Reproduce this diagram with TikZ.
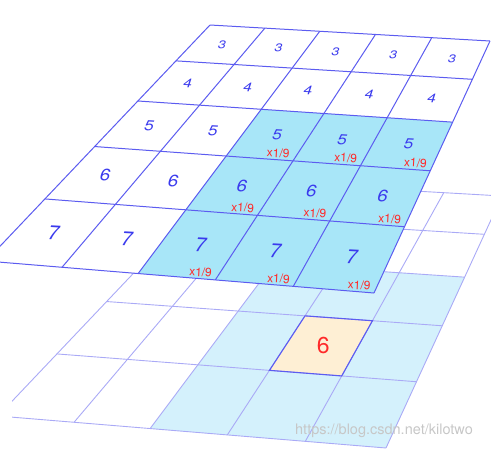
\documentclass[tikz,border=0pt]{standalone}
\usepackage{graphicx}
\usepackage{fontspec}
\setsansfont{TeX Gyre Heros}
\usetikzlibrary{calc}

\definecolor{gridblue}{HTML}{5C5CF0}
\definecolor{paleline}{HTML}{AAAAF6}
\definecolor{hicyan}{HTML}{A8E6F8}
\definecolor{palecyan}{HTML}{D4F1FC}
\definecolor{outpeach}{HTML}{FEEFD4}
\definecolor{numblue}{HTML}{3A3AEE}
\definecolor{wred}{HTML}{FF2A2A}

\begin{document}
\begin{tikzpicture}[x=1pt,y=-1pt,
    numlabel/.style={text=numblue,inner sep=0pt,rotate=-3},
    weight/.style={text=wred,font=\sffamily\fontsize{12}{12}\selectfont,anchor=south east,inner sep=0.5pt,rotate=-3},
    outval/.style={text=wred,font=\sffamily\fontsize{23}{23}\selectfont,inner sep=0pt},
    topline/.style={gridblue,line width=1pt},
    lowline/.style={paleline,line width=0.9pt}]
\useasboundingbox (0,0) rectangle (491,450);

% corners of the upper layer
\coordinate (TL) at (210,25);
\coordinate (TR) at (490,41);
\coordinate (BL) at (-14,261);
\coordinate (BR) at (374,293);

% grid points, upper layer (t) and lower layer (b)
\foreach \i/\t in {0/0,1/0.152,2/0.322,3/0.515,4/0.737,5/1} {
    \coordinate (L\i) at ($(TL)!\t!(BL)$);
    \coordinate (R\i) at ($(TR)!\t!(BR)$);
    \foreach \j/\s in {0/0,1/0.196,2/0.392,3/0.591,4/0.792,5/1} {
        \coordinate (t\i\j) at ($(L\i)!\s!(R\i)$);
        \coordinate (b\i\j) at ($(t\i\j)+(12,155)$);
    }
}

% Lower layer
\begin{scope}
\clip (12,0) rectangle (491,450);
\fill[palecyan] (b22) -- (b25) -- (b55) -- (b52) -- cycle;
\fill[outpeach] (b33) -- (b34) -- (b44) -- (b43) -- cycle;
\foreach \i in {0,...,5} {
    \draw[lowline] (b\i0) -- (b\i5);
    \draw[lowline] (b0\i) -- (b5\i);
}
\draw[gridblue,line width=1.1pt] (b33) -- (b34) -- (b44) -- (b43) -- cycle;
\end{scope}
\node[outval] (out) at ($(b33)!0.5!(b44)$) {6};

% Upper layer
\fill[white] (t00) -- (t05) -- (t55) -- (t50) -- cycle;
\fill[hicyan] (t22) -- (t25) -- (t55) -- (t52) -- cycle;
\foreach \i in {0,...,5} {
    \draw[topline] (t\i0) -- (t\i5);
    \draw[topline] (t0\i) -- (t5\i);
}

% values
\foreach \i/\fs/\sq in {0/14/0.8,1/15.5/0.8,2/17/0.85,3/18.5/0.9,4/20/1} {
    \pgfmathtruncatemacro\v{\i+3}
    \pgfmathtruncatemacro\ii{\i+1}
    \foreach \j in {0,...,4} {
        \pgfmathtruncatemacro\jj{\j+1}
        \node[numlabel,font=\sffamily\itshape\fontsize{\fs}{\fs}\selectfont] (n\i\j)
            at ($(t\i\j)!0.5!(t\ii\jj)$) {\scalebox{1}[\sq]{\v}};
    }
}

% kernel weights
\foreach \i in {2,3,4} {
    \pgfmathtruncatemacro\ii{\i+1}
    \foreach \j in {2,3,4} {
        \pgfmathtruncatemacro\jj{\j+1}
        \node[weight] (w\i\j) at ($(t\ii\jj)+(-3,-2)$) {x1/9};
    }
}

\node[text=black!22,font=\sffamily\fontsize{14.5}{14.5}\selectfont,inner sep=0pt] (wm) at (384,431) {https://blog.csdn.net/kilotwo};
\end{tikzpicture}
\end{document}
